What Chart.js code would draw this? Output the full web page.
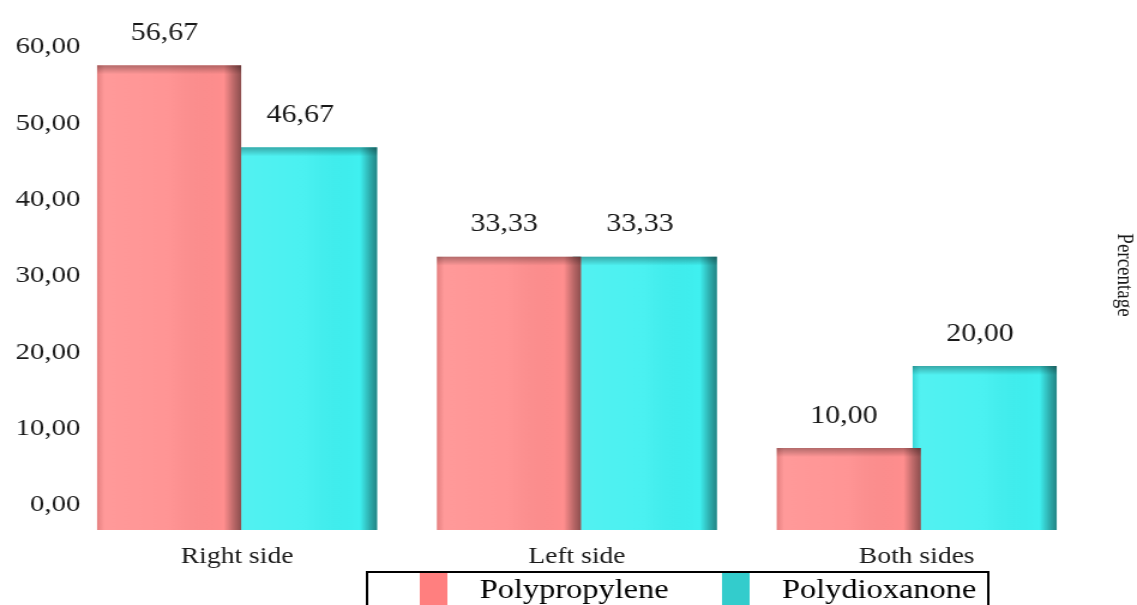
<!DOCTYPE html>
<html>
<head>
<meta charset="utf-8">
<script src="https://cdn.jsdelivr.net/npm/chart.js@4/dist/chart.umd.min.js"></script>
<style>
html, body { margin: 0; padding: 0; background: #fff; overflow: hidden; }
#graphe { display: block; }
</style>
</head>
<body>
<!-- canvas dessine plus etroit puis etire, le texte de la source est etire aussi -->
<canvas id="graphe" width="948" height="605" style="width:1137px;height:605px"></canvas>
<script>
// donnees
var categories = ["Right side", "Left side", "Both sides"];
var seriesNames = ["Polypropylene", "Polydioxanone"];
var polypropylene = [56.67, 33.33, 10.00];
var polydioxanone = [46.67, 33.33, 20.00];
var tickValues = [0, 10, 20, 30, 40, 50, 60];

var serif = "'Liberation Serif', 'Times New Roman', serif";
var couleurs = ["#ff8e8e", "#3ff0f0"];
var couleursLegende = ["#ff7f7f", "#33cccc"];

function virgule(v) {
    return Number(v).toFixed(2).replace('.', ',');
}

// ombrage pseudo 3D sur chaque barre
var ombre = {
    id: 'ombre',
    afterDatasetDraw: function(chart, args) {
        var ctx = chart.ctx;
        var meta = args.meta;
        ctx.save();
        meta.data.forEach(function(bar) {
            var p = bar.getProps(['x', 'y', 'base', 'width'], true);
            var l = p.x - p.width / 2, r = p.x + p.width / 2;
            var g = ctx.createLinearGradient(l, 0, r, 0);
            g.addColorStop(0, 'rgba(0,0,0,0.10)');
            g.addColorStop(0.05, 'rgba(255,255,255,0.10)');
            g.addColorStop(0.5, 'rgba(255,255,255,0.06)');
            g.addColorStop(0.88, 'rgba(0,0,0,0)');
            g.addColorStop(0.95, 'rgba(0,0,0,0.28)');
            g.addColorStop(1, 'rgba(0,0,0,0.45)');
            ctx.fillStyle = g;
            ctx.fillRect(l, p.y, r - l, p.base - p.y);
            var t = ctx.createLinearGradient(0, p.y, 0, p.y + 9);
            t.addColorStop(0, 'rgba(0,0,0,0.30)');
            t.addColorStop(1, 'rgba(0,0,0,0)');
            ctx.fillStyle = t;
            ctx.fillRect(l, p.y, r - l, 9);
        });
        ctx.restore();
    }
};

// valeurs au dessus des barres
var etiquettes = {
    id: 'etiquettes',
    afterDatasetsDraw: function(chart) {
        var ctx = chart.ctx;
        ctx.save();
        ctx.font = "25px " + serif;
        ctx.fillStyle = '#1a1a1a';
        ctx.textAlign = 'center';
        ctx.textBaseline = 'middle';
        chart.data.datasets.forEach(function(ds, i) {
            chart.getDatasetMeta(i).data.forEach(function(bar, j) {
                ctx.fillText(virgule(ds.data[j]), bar.x - 4, bar.y - 32);
            });
        });
        ctx.restore();
    }
};

// legende encadree en bas
var legende = {
    id: 'legende',
    afterDraw: function(chart) {
        var ctx = chart.ctx;
        ctx.save();
        ctx.strokeStyle = '#000';
        ctx.lineWidth = 2;
        ctx.strokeRect(306, 572, 518, 40);
        var xs = [350, 602];
        ctx.font = "27px " + serif;
        ctx.textBaseline = 'alphabetic';
        chart.data.datasets.forEach(function(ds, i) {
            ctx.fillStyle = couleursLegende[i];
            ctx.fillRect(xs[i], 573, 23, 34);
            ctx.fillStyle = '#000';
            ctx.fillText(ds.label, xs[i] + 50, 598);
        });
        ctx.restore();
    }
};

var ctxG = document.getElementById("graphe").getContext('2d');
var monGraphe = new Chart(ctxG, {
    type: 'bar',
    data: {
        labels: categories,
        datasets: [{
            label: seriesNames[0],
            data: polypropylene,
            yAxisID: 'y',
            backgroundColor: couleurs[0],
            categoryPercentage: 0.8,
            barPercentage: 1.06
        }, {
            label: seriesNames[1],
            data: polydioxanone,
            yAxisID: 'y',
            backgroundColor: couleurs[1],
            categoryPercentage: 0.8,
            barPercentage: 1.06
        }]
    },
    options: {
        responsive: false,
        animation: false,
        devicePixelRatio: 1,
        layout: { padding: { top: 20, bottom: 35, left: 0, right: 0 } },
        plugins: {
            legend: { display: false },
            tooltip: { enabled: false }
        },
        scales: {
            x: {
                grid: { display: false, drawTicks: false },
                border: { display: false },
                ticks: { font: { family: serif, size: 23 }, color: '#1a1a1a', padding: 13 },
                afterFit: function(s) { s.height = 40; }
            },
            y: {
                position: 'right',
                min: 0,
                max: 62.2,
                grid: { display: false, drawTicks: false },
                border: { display: false },
                ticks: { display: false },
                title: {
                    display: true,
                    text: 'Percentage',
                    font: { family: serif, size: 19 },
                    color: '#1a1a1a',
                    padding: 0
                },
                afterFit: function(s) { s.width = 42; }
            },
            graduation: {
                position: 'left',
                min: -3.28,
                max: 63.54,
                grid: { display: false, drawTicks: false },
                border: { display: false },
                afterBuildTicks: function(s) {
                    s.ticks = tickValues.map(function(v) { return { value: v }; });
                },
                ticks: {
                    font: { family: serif, size: 24 },
                    color: '#1a1a1a',
                    mirror: true,
                    crossAlign: 'far',
                    padding: -43,
                    callback: function(v) { return virgule(v); }
                },
                afterFit: function(s) { s.width = 56; }
            }
        }
    },
    plugins: [ombre, etiquettes, legende]
});
</script>
</body>
</html>
